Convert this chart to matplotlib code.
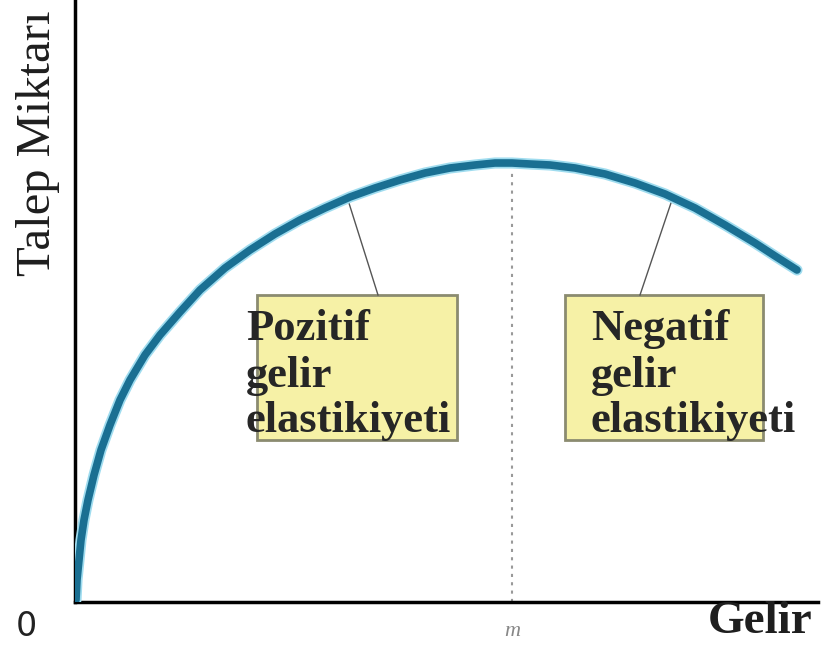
import matplotlib
matplotlib.use("Agg")
import matplotlib.pyplot as plt
from matplotlib.patches import Rectangle

# Engel-type curve: income (Gelir) vs. quantity demanded (Talep Miktarı)
income = [1, 2, 4, 6, 9, 13, 19, 26, 35, 45, 55, 70, 85, 105, 125, 150, 175, 200, 225, 250, 275,
          300, 325, 350, 375, 400, 420, 437, 455, 475, 500, 530, 560, 590, 620, 650, 680, 700, 722]
demand = [2, 22, 42, 62, 82, 102, 127, 152, 177, 202, 222, 247, 267, 290, 312, 334, 352, 368, 382,
          394, 405, 414, 422, 429, 434, 437, 439, 439, 438, 437, 434, 428, 419, 408, 394, 377, 359, 346, 332]
peak_income = 437
labels_left = ["Pozitif", "gelir", "elastikiyeti"]
labels_right = ["Negatif", "gelir", "elastikiyeti"]

W, H = 823, 652
fig = plt.figure(figsize=(W / 100, H / 100), dpi=100)
ax = fig.add_axes([75 / W, 50 / H, 748 / W, 602 / H])
ax.set_xlim(0, 748)
ax.set_ylim(0, 602)
for s in ["top", "right"]:
    ax.spines[s].set_visible(False)
ax.spines["left"].set_linewidth(2.5)
ax.spines["bottom"].set_linewidth(2.5)
ax.spines["bottom"].set_bounds(0, 743)
ax.set_xticks([])
ax.set_yticks([])

# dotted line at m
ax.plot([peak_income, peak_income], [0, 432], ls=(0, (1.5, 2.5)), color="#999999", lw=1.5, zorder=1)

# curve
ax.plot(income, demand, color="#9fdcef", lw=8, solid_capstyle="round", solid_joinstyle="round", zorder=3)
ax.plot(income, demand, color="#1a6f92", lw=5.5, solid_capstyle="round", solid_joinstyle="round", zorder=4)

# boxes
box_fc = "#f6f1a6"
box_ec = "#8b8b70"
ax.add_patch(Rectangle((182, 162), 200, 145, fc=box_fc, ec=box_ec, lw=2, zorder=2))
ax.add_patch(Rectangle((490, 162), 198, 145, fc=box_fc, ec=box_ec, lw=2, zorder=2))

# leader lines
ax.plot([273, 303], [402, 307], color="#555555", lw=1, zorder=2)
ax.plot([598, 565], [405, 307], color="#555555", lw=1, zorder=2)

serif = ["Liberation Serif", "DejaVu Serif"]
baselines = [262, 215, 170]
for txt, yb in zip(labels_left, baselines):
    ax.text(171, yb, txt, family=serif, fontsize=32, fontweight="bold", color="#262626",
            va="baseline", ha="left", zorder=5)
for txt, yb in zip(labels_right, baselines):
    ax.text(516, yb, txt, family=serif, fontsize=32, fontweight="bold", color="#262626",
            va="baseline", ha="left", zorder=5)

# axis labels
fig.text(38 / W, 1 - 143 / H, "Talep Miktarı", family=serif, fontsize=35, rotation=90,
         ha="center", va="center", color="#1e1e1e")
fig.text(760 / W, 1 - 633 / H, "Gelir", family=serif, fontsize=34, fontweight="bold",
         ha="center", va="baseline", color="#1e1e1e")
fig.text(26 / W, 1 - 626 / H, "0", family="DejaVu Sans", fontsize=24, ha="center", va="center",
         color="#222222")
fig.text(512 / W, 1 - 632 / H, "m", family=serif, style="italic", fontsize=16, ha="center",
         va="center", color="#888888")

fig.savefig("out.png", dpi=100)
